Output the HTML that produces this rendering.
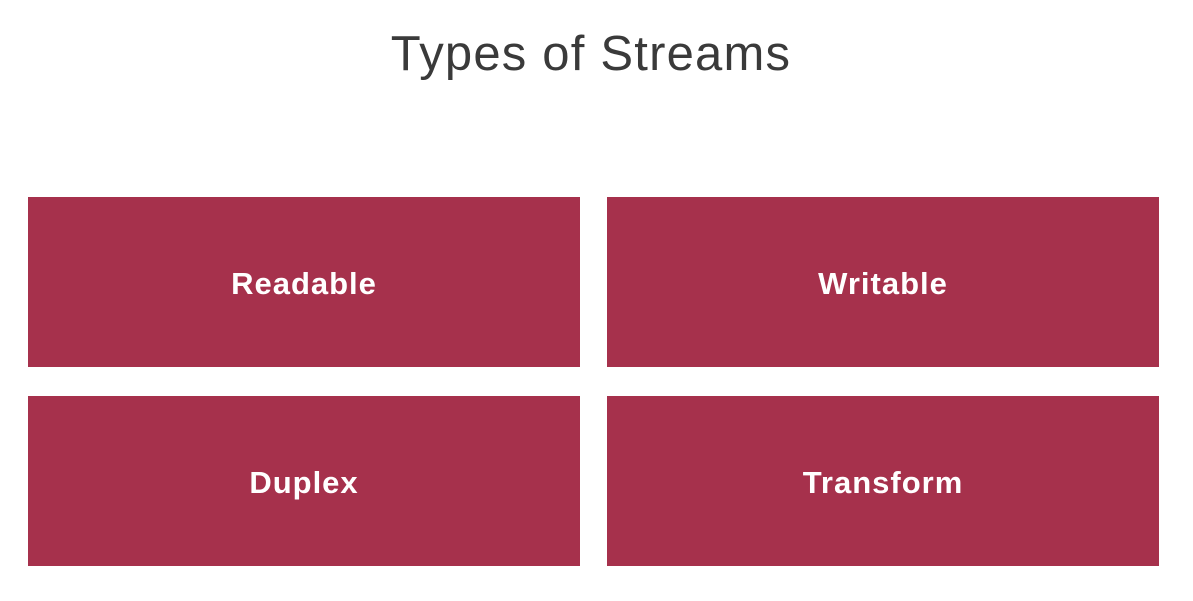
<!DOCTYPE html>
<html><head><meta charset="utf-8"><style>
html,body{margin:0;padding:0;background:#fff;}
body{width:1193px;height:601px;position:relative;overflow:hidden;font-family:"Liberation Sans",sans-serif;}
.t{position:absolute;left:0;width:1182px;top:26px;text-align:center;font-size:49px;color:#3a3a3a;font-weight:300;letter-spacing:1.2px;}
.b{position:absolute;width:552px;height:170px;background:#a6314c;color:#fff;font-size:31px;font-weight:bold;display:flex;align-items:center;justify-content:center;letter-spacing:1px;padding-top:4px;box-sizing:border-box;}
</style></head><body>
<div class="t">Types of Streams</div>
<div class="b" style="left:28px;top:197px">Readable</div>
<div class="b" style="left:607px;top:197px">Writable</div>
<div class="b" style="left:28px;top:396px">Duplex</div>
<div class="b" style="left:607px;top:396px">Transform</div>
</body></html>
